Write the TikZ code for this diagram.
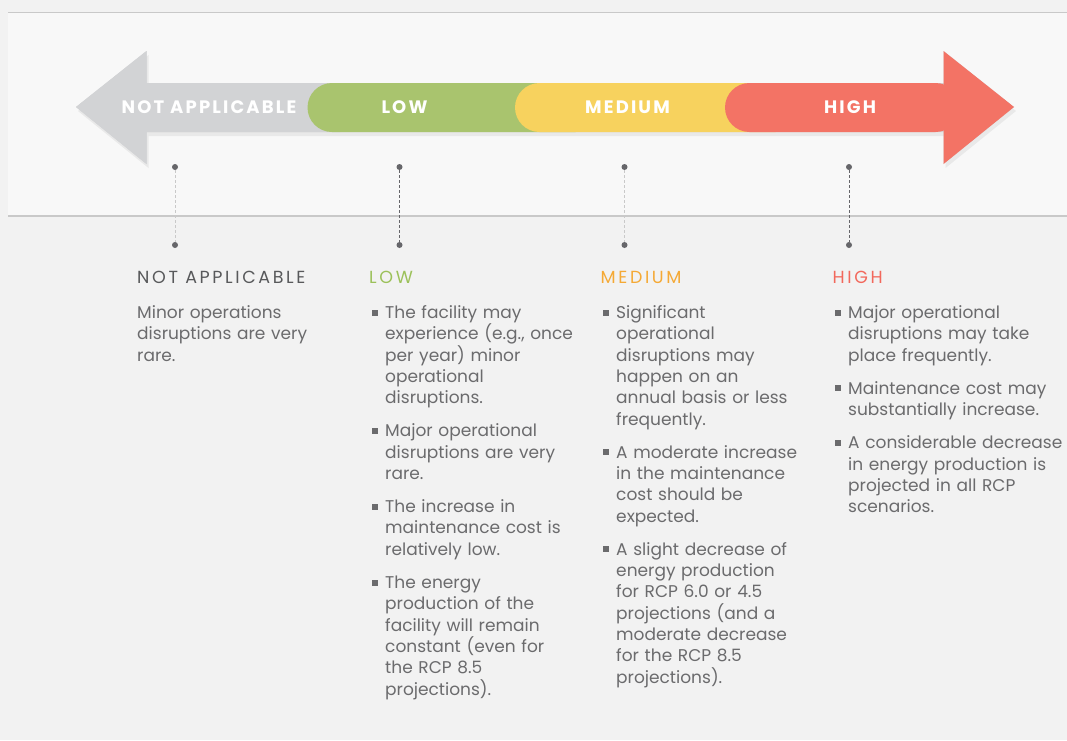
\documentclass[tikz,border=0pt]{standalone}
\usepackage{fontspec}
\setmainfont{Poppins}
\usetikzlibrary{shadows}

\definecolor{pagebg}{HTML}{F2F2F2}
\definecolor{bandbg}{HTML}{F8F8F8}
\definecolor{rulegray}{HTML}{C9C9C9}
\definecolor{nagray}{HTML}{D2D3D5}
\definecolor{lowgreen}{HTML}{A9C46E}
\definecolor{medyellow}{HTML}{F7D25E}
\definecolor{highred}{HTML}{F37365}
\definecolor{lowtext}{HTML}{9CC15A}
\definecolor{medtext}{HTML}{F5A935}
\definecolor{hightext}{HTML}{F2685C}
\definecolor{natext}{HTML}{58595B}
\definecolor{bodygray}{HTML}{6B6B6D}
\definecolor{dotgray}{HTML}{66666A}

\tikzset{
  lvl/.style={anchor=base, inner sep=0, text=white, font=\bfseries\fontsize{18}{18}\selectfont\addfontfeature{LetterSpace=12}},
  head/.style={anchor=base west, inner sep=0, font=\fontsize{17.5}{17.5}\selectfont\addfontfeature{LetterSpace=15}},
  body/.style={anchor=base west, inner sep=0, text width=240pt, align=left, text=bodygray, font=\fontsize{17}{21.3}\selectfont},
  bullet/.style={fill=bodygray, minimum size=6pt, inner sep=0},
  dot/.style={circle, fill=dotgray, minimum size=6pt, inner sep=0},
  dashlight/.style={draw=rulegray, dash pattern=on 3pt off 2pt, line width=.8pt},
  dashdark/.style={draw=dotgray, dash pattern=on 3pt off 2pt, line width=.8pt}
}

\begin{document}
\begin{tikzpicture}[x=1pt, y=-1pt]
  \useasboundingbox (0,0) rectangle (1067,740);
  \fill[pagebg] (0,0) rectangle (1067,740);

  % light band behind the arrow
  \fill[bandbg] (8,12) rectangle (1067,216);
  \draw[rulegray, line width=.8pt] (8,12) -- (1067,12);
  \draw[rulegray, line width=1.6pt] (8,216) -- (1067,216);

  % the arrow
  \fill[nagray, drop shadow={shadow xshift=2pt, shadow yshift=-4pt, opacity=.12}]
    (76,107) -- (146.5,51) -- (146.5,83) -- (943.5,83) -- (943.5,51) -- (1014,107)
    -- (943.5,164) -- (943.5,132) -- (146.5,132) -- (146.5,164) -- cycle;
  \fill[nagray] (76,107) -- (146.5,51) -- (146.5,83) -- (340,83) -- (340,132)
    -- (146.5,132) -- (146.5,164) -- cycle;
  \fill[lowgreen, rounded corners=24.5pt] (307.5,83) rectangle (600,132);
  \fill[medyellow, rounded corners=24.5pt] (515,83) rectangle (800,132);
  \fill[highred, rounded corners=24.5pt] (725,83) rectangle (960,132);
  \fill[highred] (943.5,51) -- (1014,107) -- (943.5,164) -- cycle;

  \node[lvl] (lvlna) at (209,113.5) {NOT APPLICABLE};
  \node[lvl] (lvllow) at (404.5,113.5) {LOW};
  \node[lvl] (lvlmed) at (627.5,113.5) {MEDIUM};
  \node[lvl] (lvlhigh) at (850,113.5) {HIGH};

  % pointers
  \foreach \x/\n/\s in {175/na/dashlight, 399.5/low/dashdark, 624.5/med/dashlight, 849/high/dashdark} {
    \node[dot] (top\n) at (\x,167) {};
    \node[dot] (bot\n) at (\x,245) {};
    \draw[\s] (top\n) -- (bot\n);
  }

  % not applicable
  \node[head, text=natext] (headna) at (137,283.5) {NOT APPLICABLE};
  \node[body] (na1) at (137,318.5) {Minor operations\\disruptions are very\\rare.};

  % low
  \node[head, text=lowtext] (headlow) at (369,283.5) {LOW};
  \node[body] (low1) at (385,318.5) {The facility may\\experience (e.g., once\\per year) minor\\operational\\disruptions.};
  \node[body] (low2) at (385,436.8) {Major operational\\disruptions are very\\rare.};
  \node[body] (low3) at (385,512.5) {The increase in\\maintenance cost is\\relatively low.};
  \node[body] (low4) at (385,588.6) {The energy\\production of the\\facility will remain\\constant (even for\\the RCP 8.5\\projections).};

  % medium
  \node[head, text=medtext] (headmed) at (600.5,283.5) {MEDIUM};
  \node[body] (med1) at (616,318.5) {Significant\\operational\\disruptions may\\happen on an\\annual basis or less\\frequently.};
  \node[body] (med2) at (616,458.2) {A moderate increase\\in the maintenance\\cost should be\\expected.};
  \node[body] (med3) at (616,555.2) {A slight decrease of\\energy production\\for RCP 6.0 or 4.5\\projections (and a\\moderate decrease\\for the RCP 8.5\\projections).};

  % high
  \node[head, text=hightext] (headhigh) at (832.5,283.5) {HIGH};
  \node[body] (high1) at (848,318.5) {Major operational\\disruptions may take\\place frequently.};
  \node[body] (high2) at (848,394.2) {Maintenance cost may\\substantially increase.};
  \node[body] (high3) at (848,448.7) {A considerable decrease\\in energy production is\\projected in all RCP\\scenarios.};

  \foreach \n in {low1,low2,low3,low4,med1,med2,med3,high1,high2,high3}
    \node[bullet] at ([xshift=-10.5pt, yshift=5.8pt]\n.base west) {};
\end{tikzpicture}
\end{document}
